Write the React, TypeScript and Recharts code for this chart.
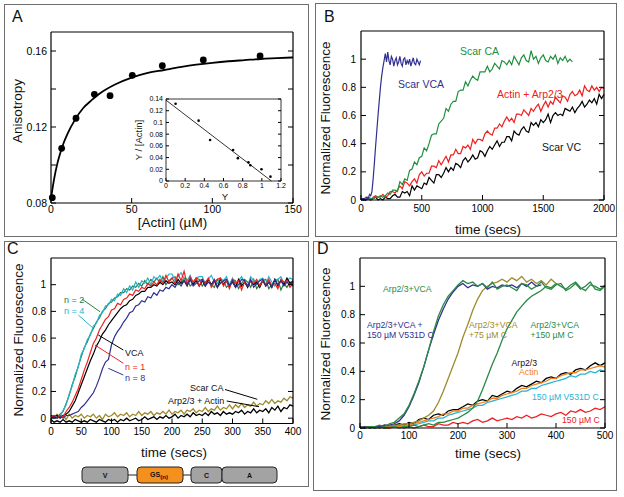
import React from 'react';
import { LineChart, ComposedChart, Line, Scatter, XAxis, YAxis } from 'recharts';

const FONT = '"Liberation Sans", Arial, Helvetica, sans-serif';
const W = 624;
const H = 497;

// ---------- Panel A ----------
const aActin = [0.8, 6.6, 15.5, 26.9, 36.6, 50.4, 69, 94.4, 129.6];
const aAniso = [0.0828, 0.1088, 0.1246, 0.1372, 0.1365, 0.1472, 0.1523, 0.1553, 0.1574];
const aFitX = [0, 2, 4, 6, 8, 10, 15, 20, 25, 30, 40, 50, 60, 70, 80, 90, 100, 110, 120, 130, 140, 150];
const aFitY = [0.0825, 0.093, 0.101, 0.107, 0.112, 0.116, 0.124, 0.13, 0.134, 0.1375, 0.1425, 0.146, 0.1485, 0.15, 0.1515, 0.1528, 0.1538, 0.1546, 0.1552, 0.1558, 0.1562, 0.1566];
const insetY = [0.1, 0.34, 0.46, 0.7, 0.75, 0.86, 0.88, 0.996, 1.09];
const insetRatio = [0.132, 0.103, 0.07, 0.053, 0.039, 0.032, 0.027, 0.02, 0.0074];
const insetFitX = [0, 1.1];
const insetFitY = [0.138, 0];

// ---------- Panel B ----------
const bVcaStep = 10;
const bVca = [
  0.00, 0.01, 0.00, 0.01, 0.00, 0.02, 0.01, 0.04, 0.03, 0.06,
  0.15, 0.26, 0.38, 0.49, 0.60, 0.70, 0.80, 0.88, 0.94, 0.99,
  1.04, 0.98, 1.05, 0.99, 0.96, 1.02, 1.00, 0.95, 0.99, 1.01,
  0.96, 0.98, 1.02, 0.97, 0.95, 1.00, 1.01, 0.96, 0.99, 0.97,
  1.00, 0.95, 0.98, 1.01, 0.97, 0.96, 1.00, 0.98, 0.96, 0.99,
];
const bStep = 20;
const bCa = [
  0.01, 0.00, 0.00, 0.02, 0.01, 0.01, 0.02, 0.02, 0.03, 0.02,
  0.03, 0.05, 0.04, 0.07, 0.07, 0.06, 0.13, 0.11, 0.15, 0.14,
  0.21, 0.22, 0.27, 0.25, 0.30, 0.31, 0.37, 0.35, 0.40, 0.46,
  0.47, 0.47, 0.54, 0.56, 0.58, 0.65, 0.63, 0.68, 0.70, 0.70,
  0.77, 0.78, 0.78, 0.84, 0.81, 0.85, 0.88, 0.86, 0.85, 0.91,
  0.91, 0.91, 0.95, 0.91, 0.93, 0.97, 0.95, 0.93, 0.99, 0.98,
  0.96, 0.99, 0.96, 1.02, 0.99, 0.96, 1.01, 1.03, 0.99, 0.98,
  1.06, 1.00, 1.02, 0.97, 1.01, 1.03, 0.99, 0.98, 1.02, 1.00,
  1.03, 0.97, 1.01, 0.99, 1.02, 0.98, 1.00, 0.98,
];
const bActinArp = [
  0.01, 0.00, 0.02, 0.01, 0.00, 0.02, 0.03, 0.02, 0.02, 0.04,
  0.02, 0.03, 0.06, 0.06, 0.05, 0.07, 0.10, 0.08, 0.13, 0.12,
  0.10, 0.13, 0.15, 0.12, 0.18, 0.20, 0.17, 0.19, 0.19, 0.24,
  0.24, 0.23, 0.28, 0.25, 0.28, 0.31, 0.27, 0.32, 0.32, 0.36,
  0.33, 0.33, 0.38, 0.37, 0.39, 0.36, 0.43, 0.40, 0.43, 0.43,
  0.42, 0.47, 0.49, 0.47, 0.46, 0.51, 0.51, 0.54, 0.52, 0.56,
  0.59, 0.56, 0.58, 0.55, 0.61, 0.61, 0.60, 0.64, 0.62, 0.60,
  0.65, 0.63, 0.66, 0.68, 0.63, 0.67, 0.70, 0.66, 0.70, 0.68,
  0.73, 0.71, 0.69, 0.74, 0.73, 0.70, 0.75, 0.77, 0.74, 0.75,
  0.78, 0.74, 0.81, 0.78, 0.77, 0.81, 0.78, 0.80, 0.77, 0.80,
  0.79,
];
const bVc = [
  0.00, 0.01, 0.00, 0.01, 0.00, 0.01, 0.02, 0.00, 0.01, 0.00,
  0.02, 0.01, 0.01, 0.03, 0.04, 0.02, 0.02, 0.06, 0.05, 0.06,
  0.03, 0.10, 0.07, 0.10, 0.09, 0.08, 0.12, 0.11, 0.16, 0.14,
  0.12, 0.18, 0.18, 0.16, 0.19, 0.23, 0.20, 0.23, 0.21, 0.26,
  0.25, 0.23, 0.28, 0.30, 0.27, 0.29, 0.32, 0.29, 0.30, 0.35,
  0.34, 0.31, 0.35, 0.38, 0.36, 0.39, 0.42, 0.38, 0.41, 0.41,
  0.45, 0.45, 0.42, 0.49, 0.47, 0.46, 0.50, 0.52, 0.49, 0.48,
  0.55, 0.53, 0.55, 0.52, 0.57, 0.55, 0.57, 0.61, 0.55, 0.60,
  0.62, 0.60, 0.61, 0.60, 0.65, 0.64, 0.63, 0.66, 0.62, 0.65,
  0.67, 0.70, 0.66, 0.68, 0.71, 0.69, 0.72, 0.68, 0.75, 0.72,
  0.75,
];

// ---------- Panel C (5 s steps, 0-400 s) ----------
const cStep = 5;
const cN2 = [
  0.01, 0.02, 0.00, 0.03, 0.05, 0.11, 0.17, 0.25, 0.31, 0.39,
  0.46, 0.53, 0.57, 0.63, 0.67, 0.72, 0.75, 0.80, 0.82, 0.86,
  0.87, 0.90, 0.91, 0.94, 0.94, 0.97, 0.96, 0.99, 0.98, 1.01,
  0.99, 1.03, 1.00, 1.04, 1.02, 1.05, 1.01, 1.06, 1.00, 1.03,
  1.05, 1.06, 1.00, 1.02, 1.05, 1.04, 0.99, 1.01, 1.05, 1.04,
  0.99, 1.02, 1.04, 1.00, 0.98, 1.04, 1.01, 1.03, 0.98, 1.00,
  1.04, 1.03, 0.97, 1.01, 1.04, 1.02, 0.98, 1.04, 0.97, 1.00,
  1.03, 1.04, 0.97, 1.00, 1.03, 1.04, 0.96, 1.01, 0.98, 1.02,
  0.99,
];
const cN4 = [
  0.02, 0.00, 0.02, 0.01, 0.06, 0.10, 0.18, 0.24, 0.33, 0.38,
  0.48, 0.52, 0.59, 0.62, 0.69, 0.71, 0.77, 0.79, 0.84, 0.85,
  0.89, 0.88, 0.93, 0.92, 0.97, 0.94, 0.99, 0.96, 1.02, 0.98,
  1.03, 1.01, 1.05, 1.00, 1.06, 1.04, 1.07, 1.02, 1.05, 1.08,
  1.08, 1.03, 1.06, 1.09, 1.04, 1.03, 1.07, 1.01, 1.05, 1.06,
  1.06, 1.01, 1.04, 1.07, 1.02, 1.01, 1.05, 1.03, 1.06, 1.00,
  1.05, 0.99, 1.03, 1.06, 1.02, 0.99, 1.06, 1.03, 1.00, 1.04,
  1.05, 1.00, 1.06, 1.02, 0.99, 1.04, 1.06, 1.01, 1.03, 1.05,
  1.04,
];
const cN1 = [
  0.01, 0.02, 0.00, 0.02, 0.01, 0.05, 0.08, 0.12, 0.17, 0.22,
  0.29, 0.36, 0.42, 0.49, 0.56, 0.60, 0.66, 0.70, 0.74, 0.76,
  0.81, 0.82, 0.86, 0.85, 0.89, 0.90, 0.93, 0.92, 0.96, 0.95,
  0.98, 0.97, 1.01, 0.99, 1.02, 1.00, 1.04, 1.01, 1.07, 1.02,
  1.05, 1.01, 1.08, 1.03, 1.10, 1.00, 1.06, 1.02, 1.05, 0.99,
  1.04, 1.01, 1.05, 0.98, 1.02, 1.04, 1.05, 0.99, 1.03, 0.97,
  1.04, 1.01, 1.03, 0.96, 1.02, 0.99, 1.03, 1.01, 1.04, 0.99,
  1.03, 1.00, 1.04, 0.99, 1.01, 0.97, 1.04, 1.02, 1.03, 0.98,
  1.01,
];
const cVca = [
  0.02, 0.01, 0.02, 0.00, 0.02, 0.03, 0.05, 0.09, 0.13, 0.19,
  0.25, 0.31, 0.37, 0.43, 0.48, 0.54, 0.58, 0.63, 0.66, 0.70,
  0.73, 0.76, 0.79, 0.82, 0.84, 0.85, 0.88, 0.89, 0.92, 0.93,
  0.95, 0.95, 0.98, 0.98, 1.00, 0.99, 1.02, 1.00, 1.03, 1.01,
  1.02, 1.00, 1.04, 1.01, 1.03, 0.99, 1.04, 1.00, 1.03, 0.99,
  1.03, 0.99, 1.04, 1.00, 1.03, 0.98, 1.04, 1.00, 1.03, 0.99,
  1.02, 0.98, 1.04, 0.99, 1.02, 0.98, 1.03, 1.00, 1.02, 0.98,
  1.03, 0.99, 1.02, 0.98, 1.04, 0.99, 1.03, 1.00, 1.05, 1.01,
  1.03,
];
const cN8 = [
  0.00, 0.01, 0.00, 0.01, 0.00, 0.02, 0.02, 0.03, 0.04, 0.05,
  0.08, 0.10, 0.13, 0.16, 0.19, 0.24, 0.30, 0.37, 0.42, 0.44,
  0.55, 0.61, 0.65, 0.68, 0.72, 0.75, 0.79, 0.80, 0.84, 0.85,
  0.88, 0.87, 0.91, 0.90, 0.94, 0.92, 0.96, 0.95, 0.98, 0.97,
  1.00, 0.98, 1.02, 0.99, 1.03, 1.00, 1.04, 0.99, 1.01, 1.03,
  1.04, 0.99, 1.02, 1.00, 1.04, 0.98, 1.01, 1.03, 1.04, 0.99,
  1.03, 0.98, 1.00, 1.04, 1.03, 0.99, 1.04, 0.98, 1.01, 1.03,
  1.04, 0.99, 1.02, 0.98, 1.04, 1.00, 1.03, 0.99, 1.02, 1.00,
  1.02,
];
const cScarCa = [
  0.02, 0.00, 0.03, 0.01, 0.02, -0.01, 0.03, 0.00, 0.02, 0.01,
  0.03, 0.00, 0.02, 0.01, 0.03, 0.00, 0.02, -0.01, 0.03, 0.01,
  0.02, 0.04, 0.01, 0.03, 0.02, 0.04, 0.01, 0.03, 0.02, 0.05,
  0.02, 0.04, 0.03, 0.05, 0.02, 0.04, 0.03, 0.05, 0.03, 0.06,
  0.03, 0.05, 0.04, 0.06, 0.03, 0.06, 0.05, 0.07, 0.04, 0.06,
  0.05, 0.08, 0.05, 0.07, 0.06, 0.09, 0.06, 0.08, 0.07, 0.10,
  0.07, 0.10, 0.08, 0.11, 0.08, 0.10, 0.09, 0.12, 0.09, 0.11,
  0.10, 0.13, 0.11, 0.14, 0.11, 0.13, 0.12, 0.15, 0.13, 0.16,
  0.15,
];
const cArpActin = [
  -0.01, -0.03, -0.02, -0.03, -0.01, -0.03, -0.02, -0.03, -0.01, -0.02,
  -0.03, -0.02, -0.03, -0.01, -0.02, -0.03, -0.01, -0.02, -0.03, -0.01,
  -0.02, -0.01, -0.03, -0.01, -0.02, 0.00, -0.02, -0.01, 0.00, -0.02,
  -0.01, 0.01, -0.01, 0.00, 0.01, -0.01, 0.01, 0.00, 0.02, 0.00,
  0.01, 0.03, 0.00, 0.02, 0.01, 0.03, 0.01, 0.04, 0.02, 0.03,
  0.02, 0.04, 0.02, 0.05, 0.03, 0.04, 0.02, 0.05, 0.03, 0.04,
  0.03, 0.05, 0.04, 0.06, 0.03, 0.05, 0.04, 0.07, 0.04, 0.06,
  0.05, 0.07, 0.04, 0.08, 0.06, 0.09, 0.05, 0.08, 0.07, 0.10,
  0.09,
];

// ---------- Panel D (10 s steps) ----------
const dStep = 10;
const dVca = [
  0.01, 0.00, 0.01, 0.01, 0.02, 0.01, 0.03, 0.04, 0.07, 0.10,
  0.16, 0.24, 0.33, 0.43, 0.55, 0.68, 0.79, 0.87, 0.93, 0.97,
  1.01, 1.04, 1.02, 1.03, 1.00, 1.02, 0.99, 1.03, 0.98, 1.00,
  1.01, 0.99, 0.97, 1.02, 1.01, 0.98, 1.00, 1.03, 0.99, 0.98,
  1.01, 1.02, 0.97, 0.99, 1.02, 0.98, 1.00, 1.03, 0.98, 0.97,
  1.00,
];
const dVcaV531D = [
  0.00, 0.01, 0.00, 0.01, 0.01, 0.02, 0.02, 0.03, 0.05, 0.09,
  0.15, 0.23, 0.32, 0.43, 0.55, 0.66, 0.76, 0.84, 0.91, 0.96,
  1.00, 1.02, 0.99, 1.01, 1.00, 1.02, 0.98, 1.00, 0.99, 1.01,
  1.00, 1.01, 0.99, 1.02, 1.00, 1.03, 1.00, 1.01,
];
const dVca75C = [
  0.00, 0.01, 0.00, 0.01, 0.01, 0.02, 0.01, 0.02, 0.02, 0.03,
  0.03, 0.04, 0.05, 0.07, 0.09, 0.12, 0.18, 0.26, 0.35, 0.44,
  0.53, 0.64, 0.73, 0.83, 0.91, 0.97, 1.00, 1.02, 1.03, 1.05,
  1.03, 1.06, 1.04, 1.07, 1.03, 1.05, 1.02, 1.04, 1.01, 1.05,
  1.02,
];
const dVca150C = [
  0.00, 0.00, 0.01, 0.00, 0.01, 0.00, 0.01, 0.01, 0.00, 0.01,
  0.01, 0.02, 0.01, 0.02, 0.03, 0.02, 0.04, 0.04, 0.05, 0.06,
  0.07, 0.09, 0.11, 0.14, 0.19, 0.27, 0.36, 0.45, 0.53, 0.62,
  0.70, 0.76, 0.82, 0.86, 0.90, 0.93, 0.95, 0.97, 1.00, 0.99,
  1.02, 1.00, 0.98, 1.01, 1.03, 0.99, 0.97, 1.01, 1.00, 0.98,
  1.01,
];
const dArp = [
  0.01, 0.00, 0.01, 0.01, 0.00, 0.02, 0.01, 0.02, 0.03, 0.02,
  0.04, 0.03, 0.06, 0.07, 0.06, 0.09, 0.10, 0.09, 0.12, 0.13,
  0.13, 0.15, 0.17, 0.16, 0.19, 0.20, 0.19, 0.23, 0.22, 0.24,
  0.26, 0.25, 0.28, 0.30, 0.29, 0.31, 0.33, 0.32, 0.35, 0.36,
  0.35, 0.38, 0.39, 0.38, 0.41, 0.42, 0.41, 0.44, 0.46, 0.44,
  0.46,
];
const dActin = [
  0.00, 0.01, 0.00, 0.01, 0.00, 0.01, 0.01, 0.02, 0.01, 0.02,
  0.02, 0.03, 0.04, 0.05, 0.06, 0.07, 0.08, 0.10, 0.10, 0.12,
  0.12, 0.14, 0.14, 0.16, 0.17, 0.18, 0.19, 0.21, 0.21, 0.23,
  0.24, 0.25, 0.26, 0.28, 0.28, 0.30, 0.31, 0.32, 0.33, 0.35,
  0.35, 0.37, 0.38, 0.39, 0.39, 0.41, 0.41, 0.42, 0.43, 0.44,
  0.43,
];
const dV531D = [
  0.00, 0.00, 0.01, 0.00, 0.01, 0.00, 0.01, 0.01, 0.02, 0.01,
  0.02, 0.02, 0.03, 0.04, 0.05, 0.05, 0.07, 0.07, 0.09, 0.10,
  0.11, 0.12, 0.13, 0.14, 0.16, 0.16, 0.18, 0.19, 0.20, 0.21,
  0.22, 0.23, 0.24, 0.26, 0.26, 0.28, 0.28, 0.30, 0.31, 0.32,
  0.33, 0.34, 0.35, 0.37, 0.36, 0.38, 0.38, 0.40, 0.39, 0.41,
  0.40,
];
const dC150 = [
  0.00, 0.01, 0.01, 0.00, 0.01, 0.00, 0.00, 0.01, 0.01, 0.00,
  0.01, 0.00, 0.01, 0.02, 0.01, 0.01, 0.03, 0.02, 0.02, 0.04,
  0.03, 0.04, 0.03, 0.05, 0.06, 0.04, 0.05, 0.07, 0.05, 0.06,
  0.07, 0.06, 0.08, 0.07, 0.09, 0.07, 0.08, 0.10, 0.09, 0.08,
  0.10, 0.11, 0.09, 0.12, 0.11, 0.13, 0.11, 0.12, 0.14, 0.13,
  0.15,
];

// ---------- tick labels ----------
const aXTicks = [0, 50, 100, 150];
const aYTicks = [0.08, 0.1, 0.12, 0.14, 0.16];
const aYLabelled = [0.08, 0.12, 0.16];
const insetXTicks = [0, 0.2, 0.4, 0.6, 0.8, 1, 1.2];
const insetYTicks = [0, 0.02, 0.04, 0.06, 0.08, 0.1, 0.12, 0.14];
const bXTicks = [0, 500, 1000, 1500, 2000];
const fluoTicks = [0, 0.2, 0.4, 0.6, 0.8, 1];
const cXTicks = [0, 50, 100, 150, 200, 250, 300, 350, 400];
const dXTicks = [0, 100, 200, 300, 400, 500];

const stepSeries = (step: number, values: number[]) => values.map((v, i) => ({ t: i * step, v }));
const pairSeries = (xs: number[], ys: number[]) => xs.map((t, i) => ({ t, v: ys[i] }));

type Geo = { l: number; r: number; t: number; b: number };
// axes are 1px thick boxes outside the plot area
const marginOf = (g: Geo) => ({ left: g.l - 1, right: W - g.r - 1, top: g.t - 1, bottom: H - g.b - 1 });

const EmptyTick = () => <g />;

function frameAxes(
  xDomain: number[],
  xTicks: number[],
  yDomain: number[],
  yTicks: number[],
  o: { tick: number; fs: number; xGap: number; yGap: number; yFmt?: (v: number) => string; lw?: number }
) {
  const common: any = {
    type: 'number',
    axisLine: { stroke: '#000', strokeWidth: o.lw ?? 1.2 },
    tickLine: { stroke: '#000', strokeWidth: 1 },
    tickSize: -o.tick,
    interval: 0,
  };
  const tickStyle = { fill: '#000', fontSize: o.fs, fontFamily: FONT };
  return [
    <XAxis key="xb" xAxisId={0} dataKey="t" {...common} domain={xDomain} ticks={xTicks} height={1} tick={tickStyle} tickMargin={o.tick + o.xGap} />,
    <XAxis key="xt" xAxisId="top" orientation="top" {...common} allowDataOverflow domain={xDomain} ticks={xTicks} height={1} tick={EmptyTick} />,
    <YAxis key="yl" yAxisId={0} dataKey="v" {...common} domain={yDomain} ticks={yTicks} width={1} tick={tickStyle} tickMargin={o.tick + o.yGap} tickFormatter={o.yFmt} />,
    <YAxis key="yr" yAxisId="right" orientation="right" {...common} allowDataOverflow domain={yDomain} ticks={yTicks} width={1} tick={EmptyTick} />,
  ];
}

const gA: Geo = { l: 51, r: 293, t: 32, b: 203 };
const gIn: Geo = { l: 166, r: 281, t: 99, b: 181 };
const gB: Geo = { l: 361, r: 604, t: 31, b: 200 };
const gC: Geo = { l: 51, r: 293, t: 258, b: 423.5 };
const gD: Geo = { l: 360, r: 605, t: 258, b: 428 };

const layer: React.CSSProperties = { position: 'absolute', left: 0, top: 0 };

const trace = (key: string, data: any[], color: string, w = 1.2) => (
  <Line key={key} data={data} dataKey="v" type="linear" stroke={color} strokeWidth={w} dot={false} isAnimationActive={false} />
);

const NAVY = '#30308f';
const GREEN = '#21903e';
const RED = '#ee2020';
const CYAN = '#27b4d2';
const OLIVE = '#9d8b2c';
const ORANGE = '#f07f1a';
const DGREEN = '#2a8a45';

function Txt(p: any) {
  return <text fontFamily={FONT} {...p} />;
}

function VTitle({ x, y, children, size = 13.5 }: any) {
  return (
    <text fontFamily={FONT} fontSize={size} fill="#111" textAnchor="middle" dominantBaseline="central" transform={`translate(${x},${y}) rotate(-90)`}>
      {children}
    </text>
  );
}

export default function App() {
  return (
    <div style={{ position: 'relative', width: W, height: H, background: '#fff', overflow: 'hidden' }}>
      <style>{'body{margin:0}'}</style>

      {/* Panel A main */}
      <div style={layer}>
        <ComposedChart width={W} height={H} margin={marginOf(gA)}>
          {frameAxes([0, 150], aXTicks, [0.08, 0.17], aYTicks, {
            tick: 5, fs: 10.5, xGap: 3, yGap: 4,
            yFmt: (v: number) => (aYLabelled.includes(v) ? v.toFixed(2) : ''),
          })}
          <Line data={pairSeries(aFitX, aFitY)} dataKey="v" type="monotone" stroke="#000" strokeWidth={1.8} dot={false} isAnimationActive={false} />
          <Scatter data={pairSeries(aActin, aAniso)} dataKey="v" fill="#000" isAnimationActive={false}
            shape={(p: any) => <circle cx={p.cx} cy={p.cy} r={3.4} fill="#000" />} />
        </ComposedChart>
      </div>

      {/* Inset */}
      <div style={{ position: 'absolute', left: gIn.l, top: gIn.t, width: gIn.r - gIn.l, height: gIn.b - gIn.t, background: '#fff' }} />
      <div style={layer}>
        <ComposedChart width={W} height={H} margin={marginOf(gIn)}>
          {frameAxes([0, 1.2], insetXTicks, [0, 0.14], insetYTicks, { tick: 3, fs: 7, xGap: 2, yGap: 3, lw: 0.8 })}
          <Line data={pairSeries(insetFitX, insetFitY)} dataKey="v" type="linear" stroke="#000" strokeWidth={0.8} dot={false} isAnimationActive={false} />
          <Scatter data={pairSeries(insetY, insetRatio)} dataKey="v" fill="#000" isAnimationActive={false}
            shape={(p: any) => <circle cx={p.cx} cy={p.cy} r={1.3} fill="#000" />} />
        </ComposedChart>
      </div>

      {/* Panel B */}
      <div style={layer}>
        <LineChart width={W} height={H} margin={marginOf(gB)}>
          {frameAxes([0, 2000], bXTicks, [0, 1.2], fluoTicks, { tick: 5, fs: 10, xGap: 5, yGap: 5 })}
          {trace('vc', stepSeries(bStep, bVc), '#000')}
          {trace('aa', stepSeries(bStep, bActinArp), RED)}
          {trace('ca', stepSeries(bStep, bCa), GREEN)}
          {trace('vca', stepSeries(bVcaStep, bVca), NAVY)}
        </LineChart>
      </div>

      {/* Panel C */}
      <div style={layer}>
        <LineChart width={W} height={H} margin={marginOf(gC)}>
          {frameAxes([0, 400], cXTicks, [-0.04, 1.2], fluoTicks, { tick: 5, fs: 10, xGap: 4, yGap: 5 })}
          {trace('sca', stepSeries(cStep, cScarCa), OLIVE, 1.3)}
          {trace('aac', stepSeries(cStep, cArpActin), '#000', 1.3)}
          {trace('n2', stepSeries(cStep, cN2), '#2b7d3e')}
          {trace('n4', stepSeries(cStep, cN4), CYAN)}
          {trace('vcac', stepSeries(cStep, cVca), '#000')}
          {trace('n1', stepSeries(cStep, cN1), RED)}
          {trace('n8', stepSeries(cStep, cN8), NAVY)}
        </LineChart>
      </div>

      {/* Panel D */}
      <div style={layer}>
        <LineChart width={W} height={H} margin={marginOf(gD)}>
          {frameAxes([0, 500], dXTicks, [0, 1.2], fluoTicks, { tick: 5, fs: 10, xGap: 4, yGap: 5 })}
          {trace('c150', stepSeries(dStep, dC150), RED, 1.3)}
          {trace('v531', stepSeries(dStep, dV531D), CYAN, 1.3)}
          {trace('arp', stepSeries(dStep, dArp), '#000', 1.3)}
          {trace('act', stepSeries(dStep, dActin), ORANGE, 1.3)}
          {trace('v150', stepSeries(dStep, dVca150C), DGREEN, 1.3)}
          {trace('v75', stepSeries(dStep, dVca75C), OLIVE, 1.3)}
          {trace('vv', stepSeries(dStep, dVcaV531D), NAVY, 1.3)}
          {trace('vd', stepSeries(dStep, dVca), DGREEN, 1.3)}
        </LineChart>
      </div>

      {/* Text, borders and schematic */}
      <svg width={W} height={H} style={{ position: 'absolute', left: 0, top: 0, pointerEvents: 'none' }}>
        <g fill="none" stroke="#6e6e6e" strokeWidth={1}>
          <rect x={4.5} y={4.5} width={304} height={232} />
          <rect x={315.5} y={3.5} width={301} height={233} />
          <rect x={4.5} y={241.5} width={304} height={245} />
          <rect x={313.5} y={241.5} width={303} height={249} />
        </g>

        <Txt x={12} y={22} fontSize={16} fill="#111">A</Txt>
        <Txt x={324} y={22} fontSize={16} fill="#111">B</Txt>
        <Txt x={7} y={254} fontSize={16} fill="#111">C</Txt>
        <Txt x={317} y={254} fontSize={16} fill="#111">D</Txt>

        {/* Panel A titles */}
        <VTitle x={17} y={111}>Anisotropy</VTitle>
        <Txt x={172.5} y={226.5} fontSize={13.5} fill="#111" textAnchor="middle">[Actin] (µM)</Txt>
        <VTitle x={138} y={140} size={9.5}>Y / [Actin]</VTitle>
        <Txt x={225} y={200} fontSize={9.5} fill="#111" textAnchor="middle">Y</Txt>

        {/* Panel B */}
        <VTitle x={325.5} y={118}>Normalized Fluorescence</VTitle>
        <Txt x={488} y={234} fontSize={13.5} fill="#111" textAnchor="middle">time (secs)</Txt>
        <Txt x={398} y={87.7} fontSize={10.5} fill={NAVY}>Scar VCA</Txt>
        <Txt x={460} y={55.4} fontSize={10.5} fill={GREEN}>Scar CA</Txt>
        <Txt x={497} y={97.7} fontSize={10.5} fill={RED}>Actin + Arp2/3</Txt>
        <Txt x={542} y={151.4} fontSize={10.5} fill="#111">Scar VC</Txt>

        {/* Panel C */}
        <VTitle x={18.5} y={340}>Normalized Fluorescence</VTitle>
        <Txt x={174} y={456.5} fontSize={13.5} fill="#111" textAnchor="middle">time (secs)</Txt>
        <g fontFamily={FONT} fontSize={9}>
          <text x={64} y={303.3} fill="#2b7d3e">n = 2</text>
          <text x={64} y={314.3} fill={CYAN}>n = 4</text>
          <text x={125} y={356} fill="#111">VCA</text>
          <text x={125} y={370} fill={RED}>n = 1</text>
          <text x={125} y={380.6} fill={NAVY}>n = 8</text>
          <text x={190} y={391.3} fill="#111">Scar CA</text>
          <text x={168} y={404.3} fill="#111">Arp2/3 + Actin</text>
        </g>
        <g strokeWidth={1}>
          <line x1={82.3} y1={299.3} x2={100} y2={311.7} stroke="#2b7d3e" />
          <line x1={78.3} y1={315} x2={93.3} y2={328.3} stroke={CYAN} />
          <line x1={123.3} y1={350} x2={98.3} y2={335} stroke="#000" />
          <line x1={123.3} y1={363.3} x2={95} y2={345} stroke={RED} />
          <line x1={123.3} y1={375} x2={108.3} y2={368.3} stroke={NAVY} />
          <line x1={225} y1={389.5} x2={257.3} y2={399.3} stroke="#000" />
          <line x1={226.7} y1={401} x2={259} y2={406.7} stroke="#000" />
        </g>

        {/* Schematic */}
        <g stroke="#222" strokeWidth={1}>
          <line x1={128} y1={475} x2={137} y2={475} />
          <line x1={183} y1={475} x2={191} y2={475} />
          <rect x={82} y={467} width={46} height={16} rx={4} fill="#a3a3a3" />
          <rect x={137} y={467} width={46} height={16} rx={4} fill="#f4901e" />
          <rect x={191} y={467} width={31} height={16} rx={4} fill="#a3a3a3" />
          <rect x={222} y={467} width={55} height={16} rx={4} fill="#a3a3a3" />
        </g>
        <g fontFamily={FONT} fontSize={7} fontWeight="bold" fill="#111" textAnchor="middle">
          <text x={105} y={477.5}>V</text>
          <text x={159} y={476.5}>GS<tspan fontSize={6} dy={2}>(n)</tspan></text>
          <text x={206.5} y={477.5}>C</text>
          <text x={249.5} y={477.5}>A</text>
        </g>

        {/* Panel D */}
        <VTitle x={325.5} y={344}>Normalized Fluorescence</VTitle>
        <Txt x={488} y={458} fontSize={13.5} fill="#111" textAnchor="middle">time (secs)</Txt>
        <g fontFamily={FONT} fontSize={8.7}>
          <text x={383} y={292.3} fill={DGREEN}>Arp2/3+VCA</text>
          <text x={367} y={327.5} fill={NAVY}>Arp2/3+VCA +</text>
          <text x={367} y={338} fill={NAVY}>150 µM V531D C</text>
          <text x={469} y={327.5} fill={OLIVE}>Arp2/3+VCA</text>
          <text x={469} y={338} fill={OLIVE}>+75 µM C</text>
          <text x={530.5} y={327.5} fill={DGREEN}>Arp2/3+VCA</text>
          <text x={530.5} y={338} fill={DGREEN}>+150 µM C</text>
          <text x={511.5} y={365.5} fill="#111">Arp2/3</text>
          <text x={519} y={374.5} fill={ORANGE}>Actin</text>
          <text x={532} y={400.3} fill={CYAN}>150 µM V531D C</text>
          <text x={562} y={423} fill={RED}>150 µM C</text>
        </g>
      </svg>
    </div>
  );
}
